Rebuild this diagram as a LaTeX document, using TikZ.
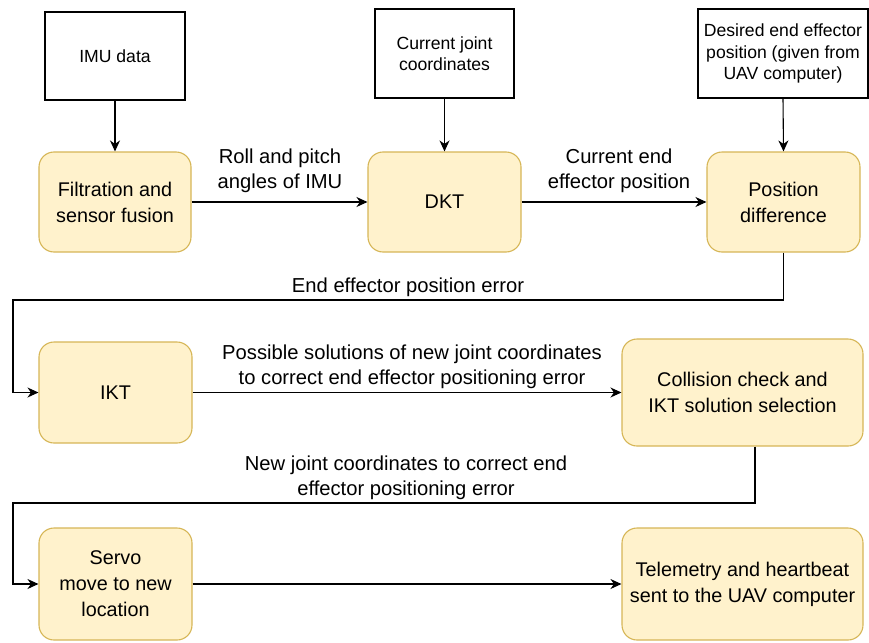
\documentclass[tikz,border=0pt]{standalone}
\usepackage{fontspec}
\setmainfont{Liberation Sans}
\usetikzlibrary{arrows.meta}
\definecolor{boxfill}{HTML}{FFF2CC}
\definecolor{boxline}{HTML}{D6B656}
\tikzset{
  inbox/.style={draw=black, line width=1.1pt, fill=white, align=center,
    font=\fontsize{17.6}{21.5}\selectfont, inner sep=2pt},
  procbox/.style={draw=boxline, line width=1.1pt, fill=boxfill, rounded corners=15pt,
    align=center, font=\fontsize{19.8}{26}\selectfont, inner sep=2pt},
  lbl/.style={align=center, font=\fontsize{20.2}{25.5}\selectfont, inner sep=0pt},
  arr/.style={draw=black, line width=1.1pt, -{Stealth[length=11pt,width=10pt,inset=3.5pt]}}
}
\begin{document}
\begin{tikzpicture}[x=1pt,y=-1pt]
\useasboundingbox (0,0) rectangle (869,642);

% input boxes
\node[inbox, minimum width=140pt, minimum height=88pt] (imu) at (115,56) {IMU data};
\node[inbox, minimum width=139pt, minimum height=89pt] (cjc) at (444.5,53.5) {Current joint\\coordinates};
\node[inbox, minimum width=170pt, minimum height=89pt] (des) at (783,53.5) {Desired end effector\\position (given from\\UAV computer)};

% processing blocks
\node[procbox, minimum width=152pt, minimum height=100pt] (filt) at (115,202) {Filtration and\\sensor fusion};
\node[procbox, minimum width=153pt, minimum height=100pt] (dkt) at (444.5,202) {DKT};
\node[procbox, minimum width=153pt, minimum height=100pt] (posd) at (783.5,202) {Position\\difference};
\node[procbox, minimum width=153pt, minimum height=101pt] (ikt) at (115.5,392.5) {IKT};
\node[procbox, minimum width=241pt, minimum height=107pt] (coll) at (742.5,392.5) {Collision check and\\IKT solution selection};
\node[procbox, minimum width=153pt, minimum height=112pt] (servo) at (115.5,584) {Servo\\move to new\\location};
\node[procbox, minimum width=241pt, minimum height=112pt] (tele) at (742.5,584) {Telemetry and heartbeat\\sent to the UAV computer};

% bend points of the return loops
\coordinate (loopA) at (13,300);
\coordinate (loopB) at (755,503);
\coordinate (loopC) at (13,503);

% connectors
\draw[arr] (imu.south) -- (filt.north);
\draw[arr] (cjc.south) -- (dkt.north);
\draw[arr] (des.south) -- (posd.north);
\draw[arr] (filt.east) -- (dkt.west);
\draw[arr] (dkt.east) -- (posd.west);
\draw[arr] (posd.south) |- (loopA) |- (ikt.west);
\draw[arr] (ikt.east) -- (coll.west);
\draw[arr] (coll.south -| loopB) -- (loopB) -- (loopC) |- (servo.west);
\draw[arr] (servo.east) -- (tele.west);

% connector labels
\node[lbl] (l1) at (280,171) {Roll and pitch\\angles of IMU};
\node[lbl] (l2) at (619,171) {Current end\\effector position};
\node[lbl] (l3) at (408,287) {End effector position error};
\node[lbl] (l4) at (412,367) {Possible solutions of new joint coordinates\\to correct end effector positioning error};
\node[lbl] (l5) at (406,478) {New joint coordinates to correct end\\effector positioning error};
\end{tikzpicture}
\end{document}
